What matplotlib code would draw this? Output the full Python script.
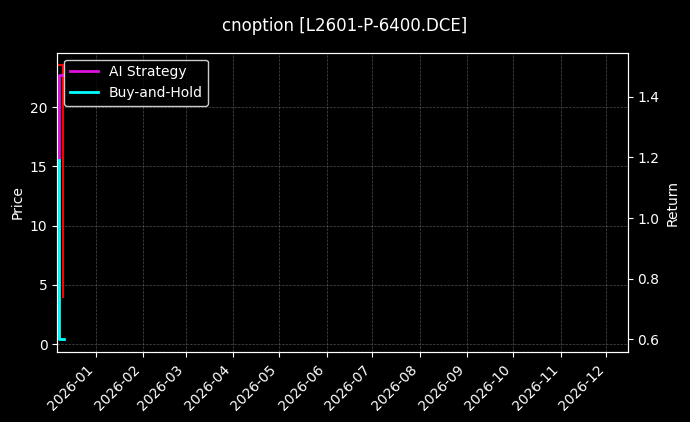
import matplotlib
matplotlib.use("Agg")
import matplotlib.pyplot as plt
import matplotlib.dates as mdates
import pandas as pd

price_dates = pd.to_datetime(["2025-12-08 00:00", "2025-12-10 12:00", "2025-12-10 12:00"])
price = [23.6, 23.6, 4.0]
ai_dates = pd.to_datetime(["2025-12-08 00:00", "2025-12-08 00:00", "2025-12-10 12:00"])
ai_ret = [1.19, 1.47, 1.47]
bh_dates = pd.to_datetime(["2025-12-08 00:00", "2025-12-08 00:00", "2025-12-11 12:00"])
bh_ret = [1.19, 0.60, 0.60]
title = "cnoption [L2601-P-6400.DCE]"

plt.rcParams['font.family'] = ['DejaVu Sans']
fig = plt.figure(figsize=(6.9, 4.22), dpi=100, facecolor="black")
ax = fig.add_axes([0.083, 0.165, 0.827, 0.71], facecolor="black")
ax2 = ax.twinx()
ax.plot(price_dates, price, color="red", lw=1.5)
l1, = ax2.plot(ai_dates, ai_ret, color="#e010e0", lw=2, label="AI Strategy")
l2, = ax2.plot(bh_dates, bh_ret, color="cyan", lw=2, label="Buy-and-Hold")
ax.set_xlim(pd.Timestamp("2025-12-07"), pd.Timestamp("2026-12-15"))
ax.set_ylim(-0.7, 24.6)
ax2.set_ylim(0.557, 1.545)
ax.set_yticks([0, 5, 10, 15, 20])
ax2.set_yticks([0.6, 0.8, 1.0, 1.2, 1.4])
ax.xaxis.set_major_locator(mdates.MonthLocator())
ax.xaxis.set_major_formatter(mdates.DateFormatter("%Y-%m"))
plt.setp(ax.get_xticklabels(), rotation=45, ha="right")
ax.grid(True, color="gray", ls="--", lw=0.5, alpha=0.6)
for a in (ax, ax2):
    a.tick_params(colors="white")
    for s in a.spines.values():
        s.set_color("white")
ax.set_ylabel("Price", color="white")
ax2.set_ylabel("Return", color="white")
fig.suptitle(title, color="white", y=0.96)
leg = ax2.legend(handles=[l1, l2], loc="upper left", facecolor="black", edgecolor="white")
for t in leg.get_texts():
    t.set_color("white")
fig.savefig("out.png", facecolor="black")
